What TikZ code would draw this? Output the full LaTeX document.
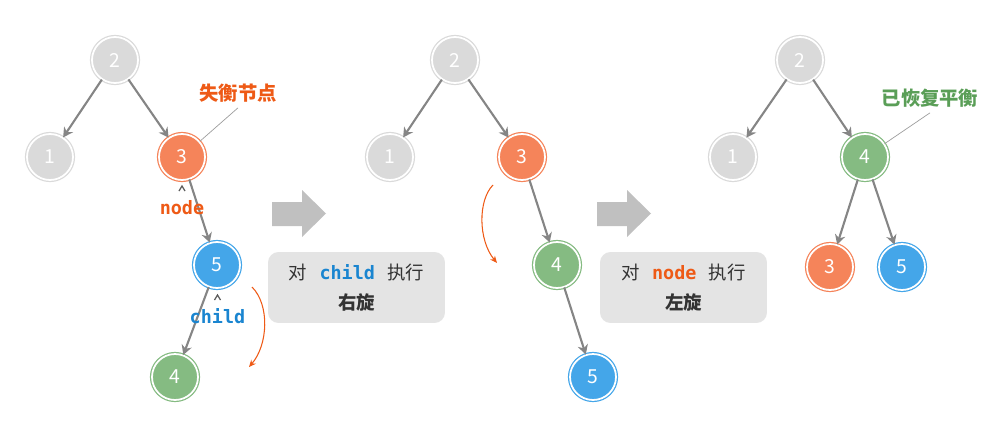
\documentclass[tikz,border=0pt]{standalone}
\usepackage{fontspec}
\usetikzlibrary{arrows.meta}
\newfontfamily\cjk{Noto Sans CJK SC}
\newfontfamily\codefont{DejaVu Sans Mono}
\definecolor{nodeGray}{HTML}{DADADA}
\definecolor{nodeOrange}{HTML}{F5845A}
\definecolor{nodeBlue}{HTML}{44A6E9}
\definecolor{nodeGreen}{HTML}{85BB82}
\definecolor{textOrange}{HTML}{EE5A16}
\definecolor{textBlue}{HTML}{1A85D0}
\definecolor{textGreen}{HTML}{5A9E57}
\definecolor{edgeGray}{HTML}{858585}
\definecolor{boxGray}{HTML}{E4E4E4}
\definecolor{arrowGray}{HTML}{C0C0C0}
\definecolor{darkText}{HTML}{333333}

\begin{document}
\begin{tikzpicture}[x=0.02cm, y=-0.02cm,
    treenode/.style={circle, minimum size=0.92cm, inner sep=0pt, draw=#1, fill=#1,
        double=white, double distance=1pt, line width=0.7pt, text=white,
        font=\cjk\fontsize{11}{11}\selectfont},
    treeedge/.style={draw=edgeGray, line width=1.2pt, -{Stealth[length=5.5pt,width=6pt]}},
    rotarrow/.style={draw=textOrange, line width=0.6pt, -{Stealth[length=4pt,width=3.5pt]}},
    notelbl/.style={inner sep=0pt, font=\cjk\fontsize{11}{11}\selectfont\bfseries},
    codelbl/.style={inner sep=0pt, font=\codefont\fontsize{10.5}{10.5}\selectfont\bfseries},
    leader/.style={draw=edgeGray!80, line width=0.4pt},
    caret/.style={draw=darkText!80, line width=0.7pt},
    opbox/.style={fill=boxGray, rounded corners=6pt, minimum width=3.54cm,
        minimum height=1.42cm, align=center, text=darkText,
        font=\cjk\fontsize{10.5}{17}\selectfont},
    bigarrow/.style={fill=arrowGray}]
    \useasboundingbox (0,0) rectangle (998,436);

    % tree before
    \node[treenode=nodeGray] (a2) at (115,60) {2};
    \node[treenode=nodeGray] (a1) at (50,157) {1};
    \node[treenode=nodeOrange] (a3) at (182,157) {3};
    \node[treenode=nodeBlue] (a5) at (217,265) {5};
    \node[treenode=nodeGreen] (a4) at (175,377) {4};
    \draw[treeedge] (a2) -- (a1);
    \draw[treeedge] (a2) -- (a3);
    \draw[treeedge] (a3) -- (a5);
    \draw[treeedge] (a5) -- (a4);

    \node[notelbl, text=textOrange] (unbal) at (238,93) {失衡节点};
    \draw[leader] ([yshift=-3pt]unbal.south) -- (a3);
    \node[codelbl, text=textOrange] (ptrnode) at (182,207.5) {node};
    \draw[caret] (ptrnode.north) ++(-3,-9) -- ++(3,-5) -- ++(3,5);
    \node[codelbl, text=textBlue] (ptrchild) at (217.5,316) {child};
    \draw[caret] (ptrchild.north) ++(-3,-8) -- ++(3,-5) -- ++(3,5);
    \draw[rotarrow] (252,287) .. controls (270,305) and (268,345) .. (249,367);

    % step 1
    \fill[bigarrow] (272,202) -- (302,202) -- (302,190) -- (326,213.5) -- (302,237) -- (302,226) -- (272,226) -- cycle;
    \node[opbox] (op1) at (356.5,287.5) {对\hspace{7pt}{\codefont\bfseries\color{textBlue}child}\hspace{7pt}执行\\{\bfseries 右旋}};

    % tree after right rotation
    \node[treenode=nodeGray] (b2) at (455,60) {2};
    \node[treenode=nodeGray] (b1) at (390,157) {1};
    \node[treenode=nodeOrange] (b3) at (522,157) {3};
    \node[treenode=nodeGreen] (b4) at (557,265) {4};
    \node[treenode=nodeBlue] (b5) at (593,377) {5};
    \draw[treeedge] (b2) -- (b1);
    \draw[treeedge] (b2) -- (b3);
    \draw[treeedge] (b3) -- (b4);
    \draw[treeedge] (b4) -- (b5);
    \draw[rotarrow] (493,185) .. controls (478,200) and (478,240) .. (497,263);

    % step 2
    \fill[bigarrow] (597,202) -- (627,202) -- (627,190) -- (651,213.5) -- (627,237) -- (627,226) -- (597,226) -- cycle;
    \node[opbox, minimum width=3.34cm] (op2) at (683.5,287.5) {对\hspace{7pt}{\codefont\bfseries\color{textOrange}node}\hspace{7pt}执行\\{\bfseries 左旋}};

    % tree after left rotation
    \node[treenode=nodeGray] (c2) at (800,60) {2};
    \node[treenode=nodeGray] (c1) at (733,157) {1};
    \node[treenode=nodeGreen] (c4) at (865,157) {4};
    \node[treenode=nodeOrange] (c3) at (830,267) {3};
    \node[treenode=nodeBlue] (c5) at (902,267) {5};
    \draw[treeedge] (c2) -- (c1);
    \draw[treeedge] (c2) -- (c4);
    \draw[treeedge] (c4) -- (c3);
    \draw[treeedge] (c4) -- (c5);

    \node[notelbl, text=textGreen] (balanced) at (930,98) {已恢复平衡};
    \draw[leader] ([yshift=-3pt]balanced.south) -- (c4);
\end{tikzpicture}
\end{document}
